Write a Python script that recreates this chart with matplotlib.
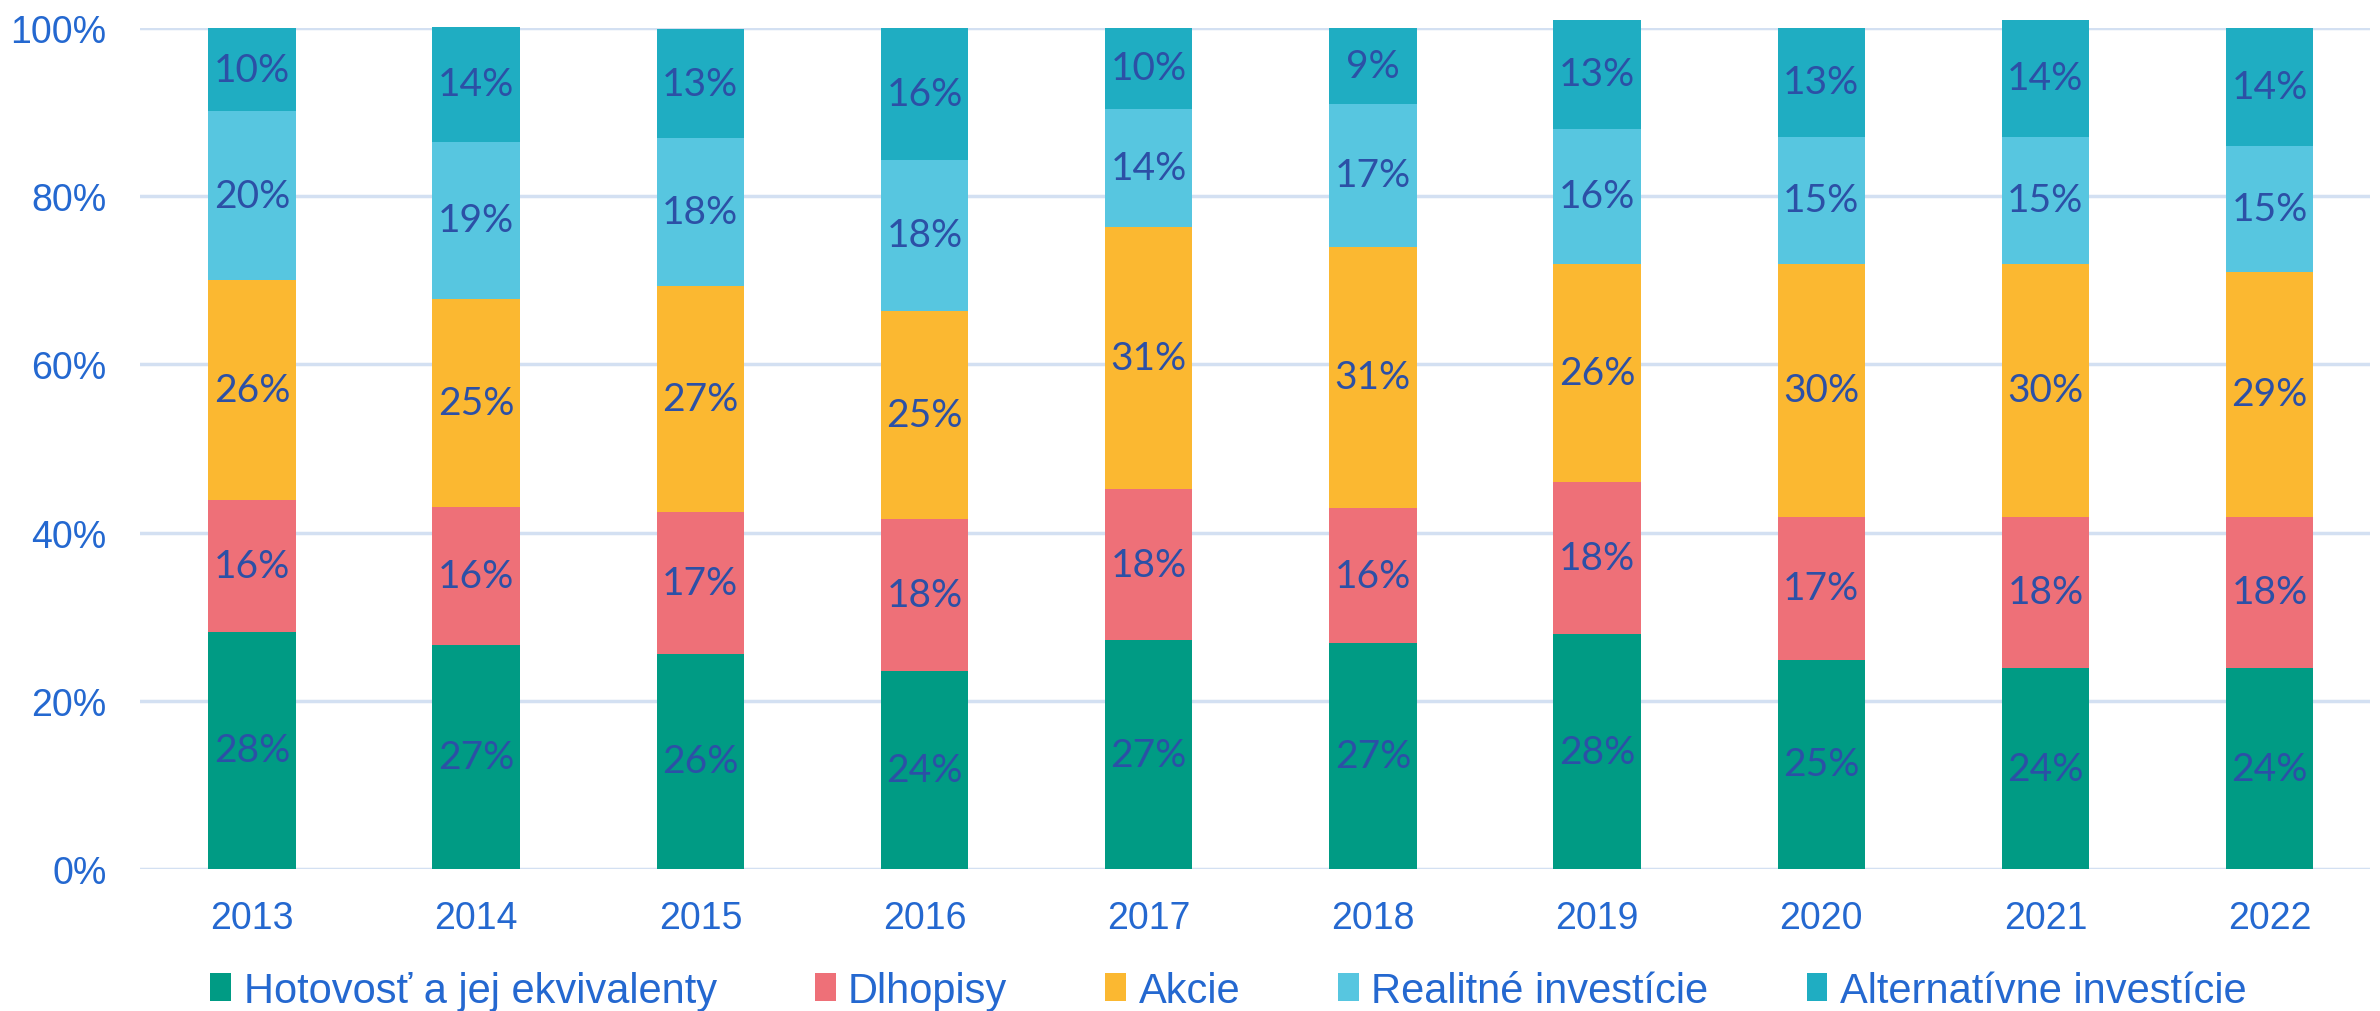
import numpy as np
import matplotlib
matplotlib.use('Agg')
import matplotlib.pyplot as plt
from matplotlib.ticker import FuncFormatter

years = ['2013', '2014', '2015', '2016', '2017', '2018', '2019', '2020', '2021', '2022']

# shares in %
hotovost = [28.2, 26.6, 25.6, 23.6, 27.2, 26.9, 27.9, 24.9, 23.9, 23.9]
dlhopisy = [15.7, 16.4, 16.9, 18.0, 18.0, 16.0, 18.1, 17.0, 18.0, 18.0]
akcie = [26.1, 24.8, 26.8, 24.8, 31.2, 31.1, 26.0, 30.1, 30.1, 29.1]
realitne = [20.1, 18.7, 17.6, 17.9, 14.0, 17.0, 16.0, 15.1, 15.1, 15.0]
alternativne = [9.9, 13.6, 13.0, 15.7, 9.6, 9.0, 13.0, 12.9, 13.9, 14.0]

series = [hotovost, dlhopisy, akcie, realitne, alternativne]
names = ['Hotovosť a jej ekvivalenty', 'Dlhopisy', 'Akcie',
         'Realitné investície', 'Alternatívne investície']
colors = ['#009B84', '#EE7078', '#FBB831', '#57C6E0', '#1FADC2']

axis_blue = '#2468D0'
label_blue = '#2C50A6'

fig = plt.figure(figsize=(23.8, 10.12), dpi=100)
ax = fig.add_axes([0.0588, 0.1403, 0.9372, 0.831])

x = np.arange(len(years))
bottom = np.zeros(len(years))
for vals, name, col in zip(series, names, colors):
    vals = np.array(vals)
    ax.bar(x, vals, 0.39, bottom=bottom, color=col, label=name, zorder=2, clip_on=False)
    for xi, b, v in zip(x, bottom, vals):
        ax.text(xi, b + v / 2, '%d%%' % int(v + 0.5), ha='center', va='center',
                fontsize=28, color=label_blue,
                family=['Liberation Sans Narrow', 'Lato', 'DejaVu Sans'], zorder=3)
    bottom += vals

ax.set_xlim(-0.5, 9.45)
ax.set_ylim(0, 100)
ax.set_yticks([0, 20, 40, 60, 80, 100])
ax.yaxis.set_major_formatter(FuncFormatter(lambda v, p: '%d%%' % v))
ax.set_xticks(x)
ax.set_xticklabels(years)
ax.grid(axis='y', color='#D3E0F2', linewidth=2.5, zorder=0)
for s in ax.spines.values():
    s.set_visible(False)
ax.tick_params(axis='both', length=0, labelsize=27, labelcolor=axis_blue)
ax.tick_params(axis='x', pad=22)
ax.tick_params(axis='y', pad=24)
for lab in ax.get_xticklabels() + ax.get_yticklabels():
    lab.set_family('Liberation Sans')

leg = ax.legend(loc='center', bbox_to_anchor=(0.488, -0.145), ncol=5, frameon=False,
                prop={'family': 'Liberation Sans', 'size': 30},
                handlelength=0.5, handleheight=0.65, handletextpad=0.3, columnspacing=2.35)
for t in leg.get_texts():
    t.set_color(axis_blue)

fig.savefig('out.png', dpi=100)
